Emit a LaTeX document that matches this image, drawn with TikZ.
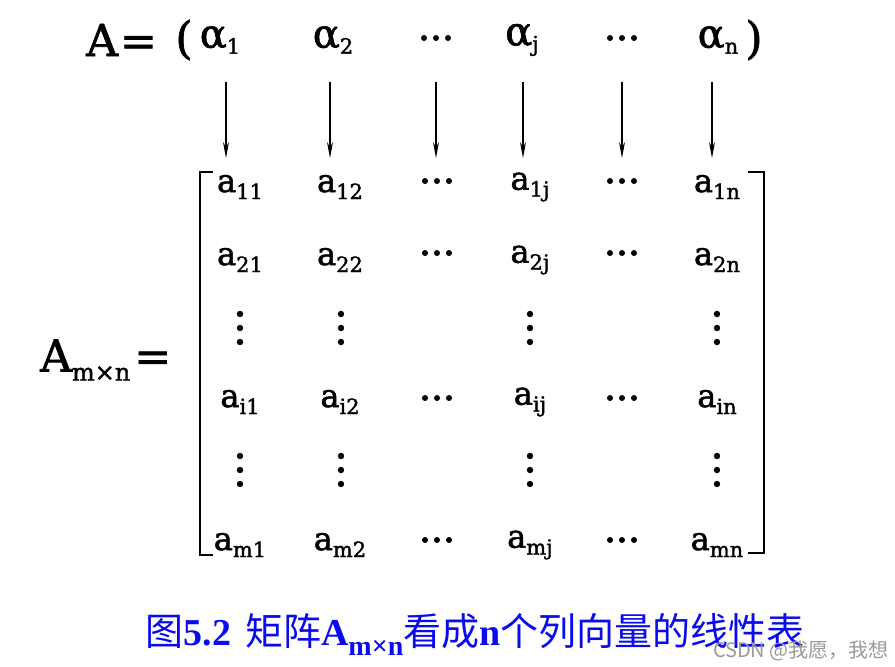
\documentclass[tikz,border=0pt]{standalone}
\usepackage{fontspec}
\setmainfont[FakeBold=1.6]{DejaVu Serif}
\newfontfamily\capfont{Liberation Serif}
\newfontfamily\cjk{Noto Sans CJK SC}
\usetikzlibrary{arrows.meta}
\definecolor{capblue}{RGB}{10,10,240}
\newcommand\subsz{\fontsize{21}{21}\selectfont}
\newcommand\ent[1]{a\raisebox{-7pt}{\subsz #1}}
\newcommand\alp[1]{{\fontsize{40}{40}\selectfont α}\raisebox{-6pt}{\subsz #1}}
\begin{document}
\begin{tikzpicture}[x=1pt,y=-1pt,
  entry/.style={font=\fontsize{32}{32}\selectfont, inner sep=0pt},
  big/.style={font=\fontsize{44}{44}\selectfont, inner sep=0pt},
  arr/.style={line width=1.1pt, -{Stealth[length=16pt,width=6pt]}},
  brk/.style={line width=1.6pt}]
\useasboundingbox (0,0) rectangle (895,667);
% top row
\node[big, anchor=west] (Aeq) at (86,40) {A\hspace{2pt}=};
\node[big] (lp) at (184,40) {(};
\node[entry] (al1) at (220,40) {\alp{1}};
\node[entry] (al2) at (333,40) {\alp{2}};
\node[entry] (alj) at (522,40) {\alp{j}};
\node[entry] (aln) at (718,40) {\alp{n}};
\node[big] (rp) at (754,40) {)};
\foreach \cx in {436,622} \foreach \dx in {-12,0,12} \fill (\cx+\dx,38) circle (3pt);
% arrows
\foreach \i/\x in {1/226,2/330,3/436,4/523,5/622,6/712}{
  \coordinate (t\i) at (\x,82);
  \coordinate (b\i) at (\x,158);
  \draw[arr] (t\i) -- (b\i);
}
% left side
\node[big, anchor=west] (Amn) at (40,360) {A\raisebox{-9pt}{\fontsize{24}{24}\selectfont m×n}\hspace{4pt}=};
% brackets
\coordinate (l1) at (213,172); \coordinate (l2) at (200,172);
\coordinate (l3) at (200,555); \coordinate (l4) at (213,555);
\draw[brk] (l1) -- (l2) -- (l3) -- (l4);
\coordinate (r1) at (748,172); \coordinate (r2) at (764,172);
\coordinate (r3) at (764,553); \coordinate (r4) at (748,553);
\draw[brk] (r1) -- (r2) -- (r3) -- (r4);
% entries
\node[entry] (a11) at (240,187) {\ent{11}};
\node[entry] (a12) at (340,187) {\ent{12}};
\node[entry] (a1j) at (530,187) {\ent{1j}};
\node[entry] (a1n) at (717,187) {\ent{1n}};
\node[entry] (a21) at (240,260) {\ent{21}};
\node[entry] (a22) at (340,260) {\ent{22}};
\node[entry] (a2j) at (530,260) {\ent{2j}};
\node[entry] (a2n) at (717,260) {\ent{2n}};
\node[entry] (ai1) at (240,402) {\ent{i1}};
\node[entry] (ai2) at (340,402) {\ent{i2}};
\node[entry] (aij) at (530,402) {\ent{ij}};
\node[entry] (ain) at (717,402) {\ent{in}};
\node[entry] (am1) at (240,545) {\ent{m1}};
\node[entry] (am2) at (340,545) {\ent{m2}};
\node[entry] (amj) at (530,545) {\ent{mj}};
\node[entry] (amn) at (717,545) {\ent{mn}};
% horizontal dots in rows
\foreach \cy in {181,253,398,540} \foreach \cx in {437,622} \foreach \dx in {-12,0,12}
  \fill (\cx+\dx,\cy) circle (3pt);
% vertical dots
\foreach \cy in {328,470} \foreach \cx in {240,341,530,717} \foreach \dy in {-14,0,14}
  \fill (\cx,\cy+\dy) circle (3.2pt);
% caption
\node[inner sep=0pt, text=capblue] (cap) at (475,634) {\fontsize{38}{38}\selectfont
  {\cjk 图}{\capfont\bfseries 5.2}\hspace{14pt}{\cjk 矩阵}{\capfont\bfseries A\raisebox{-10pt}{\fontsize{28}{28}\selectfont m×n}}{\cjk 看成}{\capfont\bfseries n}{\cjk 个列向量的线性表}};
% watermark
\node[inner sep=0pt, text=black!40, anchor=east] (wm) at (889,651) {\fontsize{20}{20}\selectfont\cjk CSDN @我愿，我想};
\end{tikzpicture}
\end{document}
